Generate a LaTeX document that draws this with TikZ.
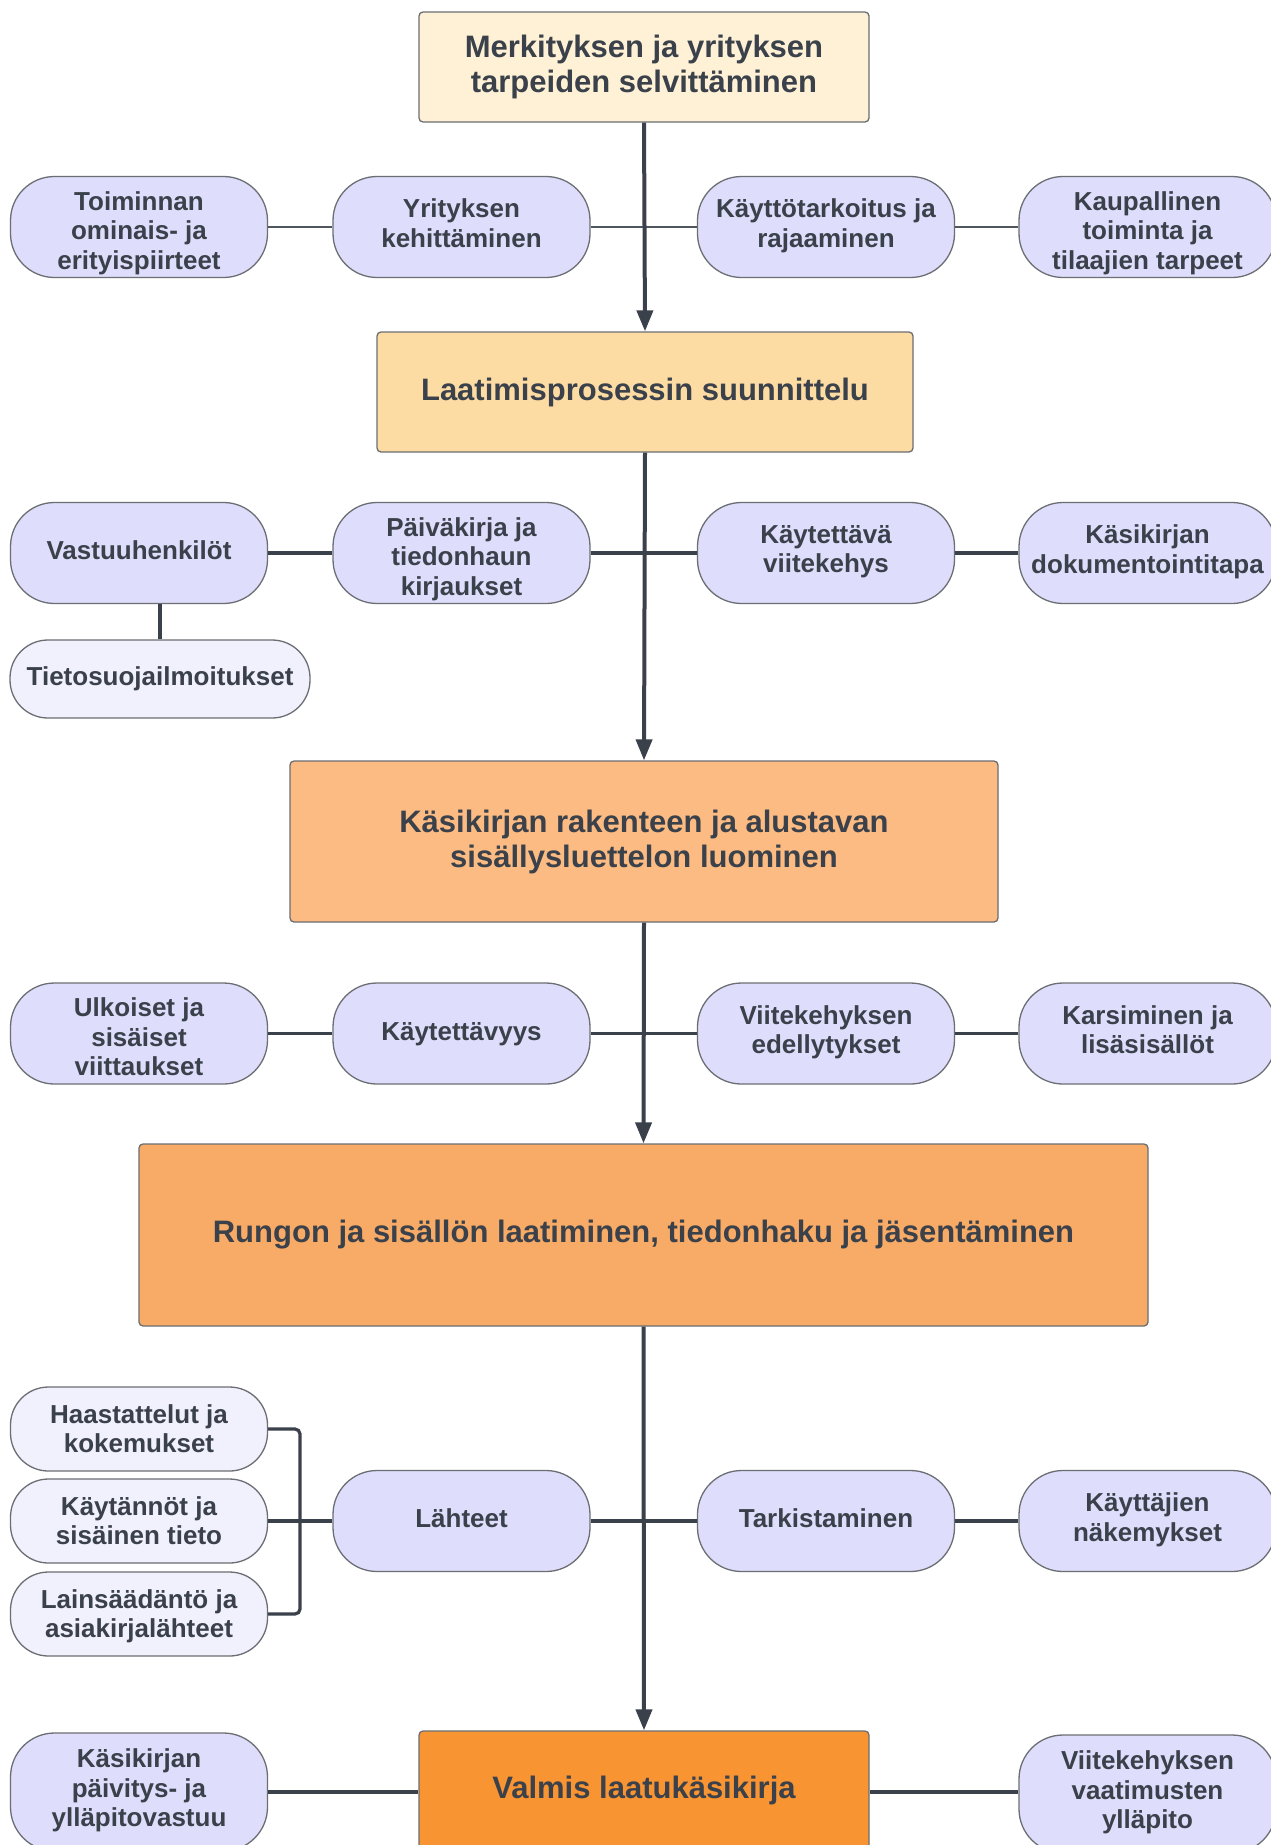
\documentclass[tikz,border=0pt]{standalone}
\usepackage{fontspec}
\setmainfont{Liberation Sans}
\usetikzlibrary{arrows.meta}
\definecolor{txt}{HTML}{3A414A}
\definecolor{edge}{HTML}{6B6E73}
\definecolor{pillfill}{HTML}{DEDEFC}
\definecolor{lightfill}{HTML}{F1F1FD}
\definecolor{bA}{HTML}{FFF1D6}
\definecolor{bB}{HTML}{FDDCA4}
\definecolor{bC}{HTML}{FBBB82}
\definecolor{bD}{HTML}{F8AB66}
\definecolor{bE}{HTML}{F99433}
\definecolor{linkc}{HTML}{3A414A}
\definecolor{thinc}{HTML}{50565E}
\newcommand\lowerthree{\rule{0pt}{33.5pt}}
\newcommand\lowertwo{\rule{0pt}{26.5pt}}
\tikzset{
  pill/.style={draw=edge, line width=1.3pt, fill=pillfill, rounded corners=44pt,
    minimum width=257pt, minimum height=101pt, inner sep=0pt, align=center,
    text=txt, font=\fontsize{26}{29.5}\selectfont\bfseries,
    execute at begin node={\rule{0pt}{21.3pt}},
    execute at end node={\rule[-8.2pt]{0pt}{8.2pt}}},
  lightpill/.style={pill, fill=lightfill, rounded corners=38pt},
  stage/.style={draw=edge, line width=1.3pt, rounded corners=4pt, inner sep=0pt,
    align=center, text=txt, font=\fontsize{31}{35}\selectfont\bfseries},
  flow/.style={draw=linkc, line width=4pt, -{Triangle[length=21pt,width=16pt]}},
  thinlink/.style={draw=thinc, line width=2pt},
  link/.style={draw=linkc, line width=3.2pt},
}
\begin{document}
\begin{tikzpicture}[x=1pt,y=-1pt]
\clip (0,0) rectangle (1271,1845);
\fill[white] (0,0) rectangle (1271,1845);

% stages
\node[stage, fill=bA, minimum width=450pt, minimum height=110pt] (b1) at (644,67) {Merkityksen ja yrityksen\\tarpeiden selvittäminen};
\node[stage, fill=bB, minimum width=536pt, minimum height=120pt] (b2) at (645,392) {Laatimisprosessin suunnittelu};
\node[stage, fill=bC, minimum width=708pt, minimum height=161pt] (b3) at (644,841.5) {Käsikirjan rakenteen ja alustavan\\sisällysluettelon luominen};
\node[stage, fill=bD, minimum width=1009pt, minimum height=182pt] (b4) at (643.5,1235) {Rungon ja sisällön laatiminen, tiedonhaku ja jäsentäminen};
\node[stage, fill=bE, minimum width=450pt, minimum height=118pt] (b5) at (644,1790) {Valmis laatukäsikirja};

% row 1
\node[pill] (r1a) at (139,227) {\lowerthree Toiminnan\\ominais- ja\\erityispiirteet};
\node[pill] (r1b) at (461.5,227) {Yrityksen\\kehittäminen};
\node[pill] (r1c) at (826,227) {Käyttötarkoitus ja\\rajaaminen};
\node[pill] (r1d) at (1147.5,227) {\lowerthree Kaupallinen\\toiminta ja\\tilaajien tarpeet};

% row 2
\node[pill] (r2a) at (139,553) {Vastuuhenkilöt};
\node[pill] (r2b) at (461.5,553) {\lowerthree Päiväkirja ja\\tiedonhaun\\kirjaukset};
\node[pill] (r2c) at (826,553) {Käytettävä\\viitekehys};
\node[pill] (r2d) at (1147.5,553) {Käsikirjan\\dokumentointitapa};
\node[lightpill, minimum width=300pt, minimum height=78pt] (ts) at (160,679) {Tietosuojailmoitukset};

% row 3
\node[pill] (r3a) at (139,1033.5) {\lowerthree Ulkoiset ja\\sisäiset\\viittaukset};
\node[pill] (r3b) at (461.5,1033.5) {Käytettävyys};
\node[pill] (r3c) at (826,1033.5) {Viitekehyksen\\edellytykset};
\node[pill] (r3d) at (1147.5,1033.5) {Karsiminen ja\\lisäsisällöt};

% row 4
\node[lightpill, minimum height=84pt] (h1) at (139,1429) {\lowertwo Haastattelut ja\\kokemukset};
\node[lightpill, minimum height=84pt] (h2) at (139,1521) {\lowertwo Käytännöt ja\\sisäinen tieto};
\node[lightpill, minimum height=84pt] (h3) at (139,1614) {\lowertwo Lainsäädäntö ja\\asiakirjalähteet};
\node[pill] (r4b) at (461.5,1521) {Lähteet};
\node[pill] (r4c) at (826,1521) {Tarkistaminen};
\node[pill] (r4d) at (1147.5,1521) {Käyttäjien\\näkemykset};

% row 5
\node[pill, minimum height=118pt] (r5a) at (139,1792) {Käsikirjan\\päivitys- ja\\ylläpitovastuu};
\node[pill, minimum height=118pt] (r5d) at (1147.5,1794) {Viitekehyksen\\vaatimusten\\ylläpito};

% row links
\draw[thinlink] (r1a.east) -- (r1b.west);
\draw[thinlink] (r1b.east) -- (r1c.west);
\draw[thinlink] (r1c.east) -- (r1d.west);

\draw[link] (r2a.east) -- (r2b.west);
\draw[link] (r2b.east) -- (r2c.west);
\draw[link] (r2c.east) -- (r2d.west);
\draw[link] (ts.north) -- (ts.north |- r2a.south);

\draw[link] (r3a.east) -- (r3b.west);
\draw[link] (r3b.east) -- (r3c.west);
\draw[link] (r3c.east) -- (r3d.west);

\coordinate (br) at (300,1521);
\draw[link, rounded corners=5pt] (h1.east) -| (br) |- (h3.east);
\draw[link] (h2.east) -- (r4b.west);
\draw[link] (r4b.east) -- (r4c.west);
\draw[link] (r4c.east) -- (r4d.west);

\draw[link] (r5a.east) -- (r5a.east -| b5.west);
\draw[link] (b5.east |- r5a.east) -- (r5d.west |- r5a.east);

% main flow
\draw[flow] (b1.south) -- (b2.north);
\draw[flow] (b2.south) -- (b3.north);
\draw[flow] (b3.south) -- (b4.north);
\draw[flow] (b4.south) -- (b5.north);
\end{tikzpicture}
\end{document}
